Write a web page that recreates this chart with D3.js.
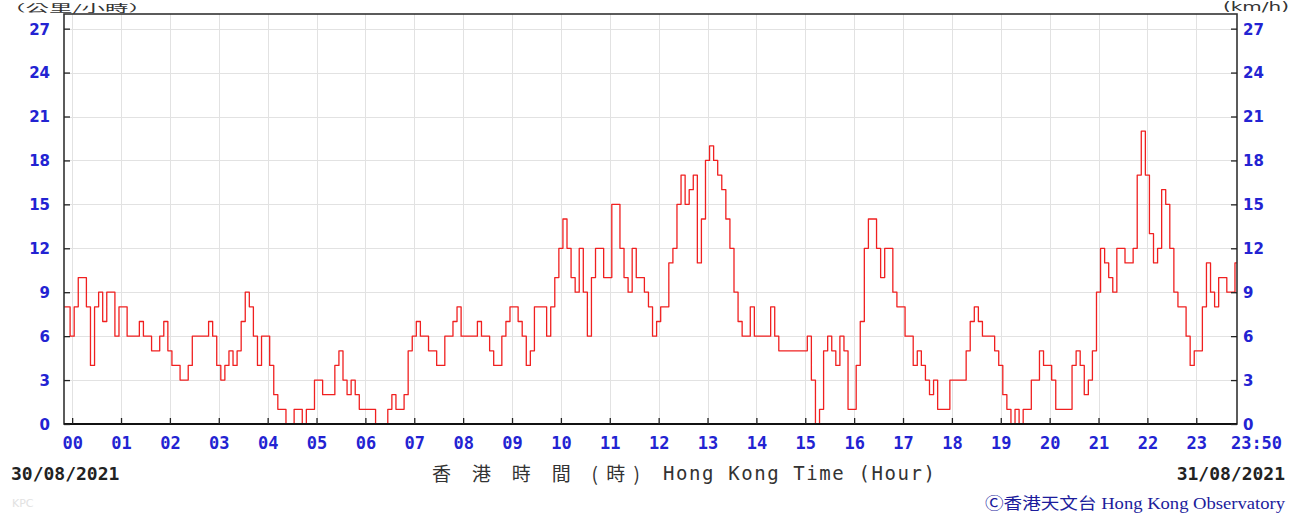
<!DOCTYPE html>
<html><head><meta charset="utf-8">
<script src="https://cdn.jsdelivr.net/npm/d3@7"></script>
<style>body{margin:0;background:#fff}svg{display:block}</style>
</head><body><svg id="c" width="1292" height="513"></svg>
<script>
// ---- data (10-min mean wind speed, km/h, sampled every 5 minutes, starting 30/08 23:50) ----
const startMinute = -10;
const stepMinutes = 5;
const speeds = [
  8,8,6,8,10,10,8,4,8,9,7,9,9,6,
  8,8,6,6,6,7,6,6,5,5,6,7,
  5,4,4,3,3,4,6,6,6,6,7,6,
  4,3,4,5,4,5,7,9,8,6,4,6,
  6,4,2,1,1,0,0,1,1,0,1,1,
  3,3,2,2,2,4,5,3,2,3,2,1,
  1,1,1,0,0,0,1,2,1,1,2,5,
  6,7,6,6,5,5,4,4,6,6,7,8,
  6,6,6,6,7,6,6,5,4,4,6,7,
  8,8,7,6,4,5,8,8,8,6,8,10,
  12,14,12,10,9,12,9,6,10,12,12,10,
  10,15,15,12,10,9,12,10,10,9,8,6,
  7,8,8,11,12,15,17,15,16,17,11,14,
  18,19,18,17,16,14,12,9,7,6,6,8,
  6,6,6,6,8,6,5,5,5,5,5,5,
  5,6,3,0,1,5,6,5,4,6,5,1,
  1,4,7,12,14,14,12,10,12,12,9,8,
  8,6,6,4,5,4,3,2,3,1,1,1,
  3,3,3,3,5,7,8,7,6,6,6,5,
  4,2,1,0,1,0,1,1,3,3,5,4,
  4,3,1,1,1,1,4,5,4,2,3,5,
  9,12,11,10,9,12,12,11,11,12,17,20,
  17,13,11,12,16,15,12,9,8,8,6,4,
  5,5,8,11,9,8,10,10,9,9,11
];
const hourLabels = ["00","01","02","03","04","05","06","07","08","09","10","11",
                    "12","13","14","15","16","17","18","19","20","21","22","23"];
const endLabel = "23:50";
const endMinute = 1430;
const yTicks = [0,3,6,9,12,15,18,21,24,27];
const startDate = "30/08/2021";
const endDate = "31/08/2021";
const axisTitleZh = "香 港 時 間 (時)";
const axisTitleEn = "Hong Kong Time (Hour)";
const unitLeft = "（公里/小時）";
const unitRight = "(km/h)";
const credit = "Ⓒ香港天文台 Hong Kong Observatory";

// ---- layout ----
const L = 64, R = 1237, T = 14, B = 424;
const svg = d3.select("#c");
svg.append("rect").attr("width",1292).attr("height",513).attr("fill","#fff");

const x = d3.scaleLinear().domain([startMinute, endMinute]).range([L, R]);
const y = d3.scaleLinear().domain([0, 28]).range([B, T]);

const pts = speeds.map((v,i) => [startMinute + i*stepMinutes, v]);
const hourMinutes = hourLabels.map((_,i) => i*60);

// grid
const grid = svg.append("g").attr("stroke","#e2e2e2").attr("stroke-width",1);
grid.selectAll("line.v").data(hourMinutes).join("line")
  .attr("x1",d=>Math.round(x(d))+0.5).attr("x2",d=>Math.round(x(d))+0.5)
  .attr("y1",T).attr("y2",B);
grid.selectAll("line.h").data(yTicks.filter(d=>d>0)).join("line")
  .attr("x1",L).attr("x2",R)
  .attr("y1",d=>Math.round(y(d))+0.5).attr("y2",d=>Math.round(y(d))+0.5);

// line
const line = d3.line().x(d=>x(d[0])).y(d=>y(d[1])).curve(d3.curveStep);
svg.append("path").datum(pts).attr("d",line)
  .attr("fill","none").attr("stroke","#f02020").attr("stroke-width",1.3)
  .attr("stroke-linejoin","round");

// frame
svg.append("rect").attr("x",L).attr("y",T).attr("width",R-L).attr("height",B-T)
  .attr("fill","none").attr("stroke","#333").attr("stroke-width",1.6);
svg.append("line").attr("x1",L).attr("x2",R).attr("y1",B).attr("y2",B)
  .attr("stroke","#111").attr("stroke-width",2);

// axes
const blue = "#2323d2";
const yLeft = svg.append("g").attr("transform",`translate(${L},0)`)
  .call(d3.axisLeft(y).tickValues(yTicks).tickSizeInner(-6).tickSizeOuter(0).tickPadding(14));
const yRight = svg.append("g").attr("transform",`translate(${R},0)`)
  .call(d3.axisRight(y).tickValues(yTicks).tickSizeInner(-6).tickSizeOuter(0).tickPadding(6));
[yLeft,yRight].forEach(g=>{
  g.select(".domain").remove();
  g.selectAll("line").attr("stroke","#222").attr("stroke-width",1.3);
  g.selectAll("text").attr("fill",blue).attr("font-family","DejaVu Sans, sans-serif")
    .attr("font-weight","bold").attr("font-size",15).attr("dy","0.36em");
});

const xTickVals = hourMinutes.concat([endMinute]);
const xTickText = hourLabels.concat([endLabel]);
const xAxis = svg.append("g").attr("transform",`translate(0,${B})`)
  .call(d3.axisBottom(x).tickValues(xTickVals)
    .tickFormat((d,i)=>xTickText[i]).tickSizeInner(-6).tickSizeOuter(0).tickPadding(13));
xAxis.select(".domain").remove();
xAxis.selectAll("line").attr("stroke","#222").attr("stroke-width",1.3);
xAxis.selectAll("text").attr("fill",blue).attr("font-family","DejaVu Sans Mono, monospace")
  .attr("font-weight","bold").attr("font-size",17);
xAxis.selectAll(".tick").filter(d=>d===endMinute).select("text").attr("dx",19);
xAxis.selectAll(".tick").filter(d=>d===endMinute).select("line").remove();

// dates
svg.append("text").attr("x",11).attr("y",480).text(startDate)
  .attr("font-family","DejaVu Sans Mono, monospace").attr("font-weight","bold")
  .attr("font-size",18).attr("fill","#222");
svg.append("text").attr("x",1285).attr("y",480).attr("text-anchor","end").text(endDate)
  .attr("font-family","DejaVu Sans Mono, monospace").attr("font-weight","bold")
  .attr("font-size",18).attr("fill","#222");

// axis title
svg.append("text").attr("x",432).attr("y",481).text(axisTitleZh)
  .attr("textLength",208).attr("lengthAdjust","spacing")
  .attr("font-family","'Noto Sans CJK TC', sans-serif")
  .attr("font-size",19).attr("fill","#333");
svg.append("text").attr("x",663).attr("y",480).text(axisTitleEn)
  .attr("textLength",272).attr("lengthAdjust","spacing")
  .attr("font-family","DejaVu Sans Mono, monospace")
  .attr("font-size",19).attr("fill","#333");

// units
svg.append("text").attr("x",2).attr("y",12).text(unitLeft)
  .attr("textLength",150).attr("lengthAdjust","spacingAndGlyphs")
  .attr("font-family","'Noto Sans CJK TC', sans-serif").attr("font-size",10).attr("fill","#333");
svg.append("text").attr("x",1289).attr("y",11).attr("text-anchor","end").text(unitRight)
  .attr("textLength",66).attr("lengthAdjust","spacingAndGlyphs")
  .attr("font-family","DejaVu Sans, sans-serif").attr("font-size",12).attr("fill","#333");

// footer
svg.append("text").attr("x",12).attr("y",507).text("KPC")
  .attr("font-family","DejaVu Sans, sans-serif").attr("font-size",11).attr("fill","#e2e2e2");
svg.append("text").attr("x",1285).attr("y",509).attr("text-anchor","end").text(credit)
  .attr("textLength",300).attr("lengthAdjust","spacingAndGlyphs")
  .attr("font-family","'Liberation Serif', 'Noto Sans CJK TC', serif")
  .attr("font-size",16).attr("fill","#1c1c9c");
</script></body></html>
